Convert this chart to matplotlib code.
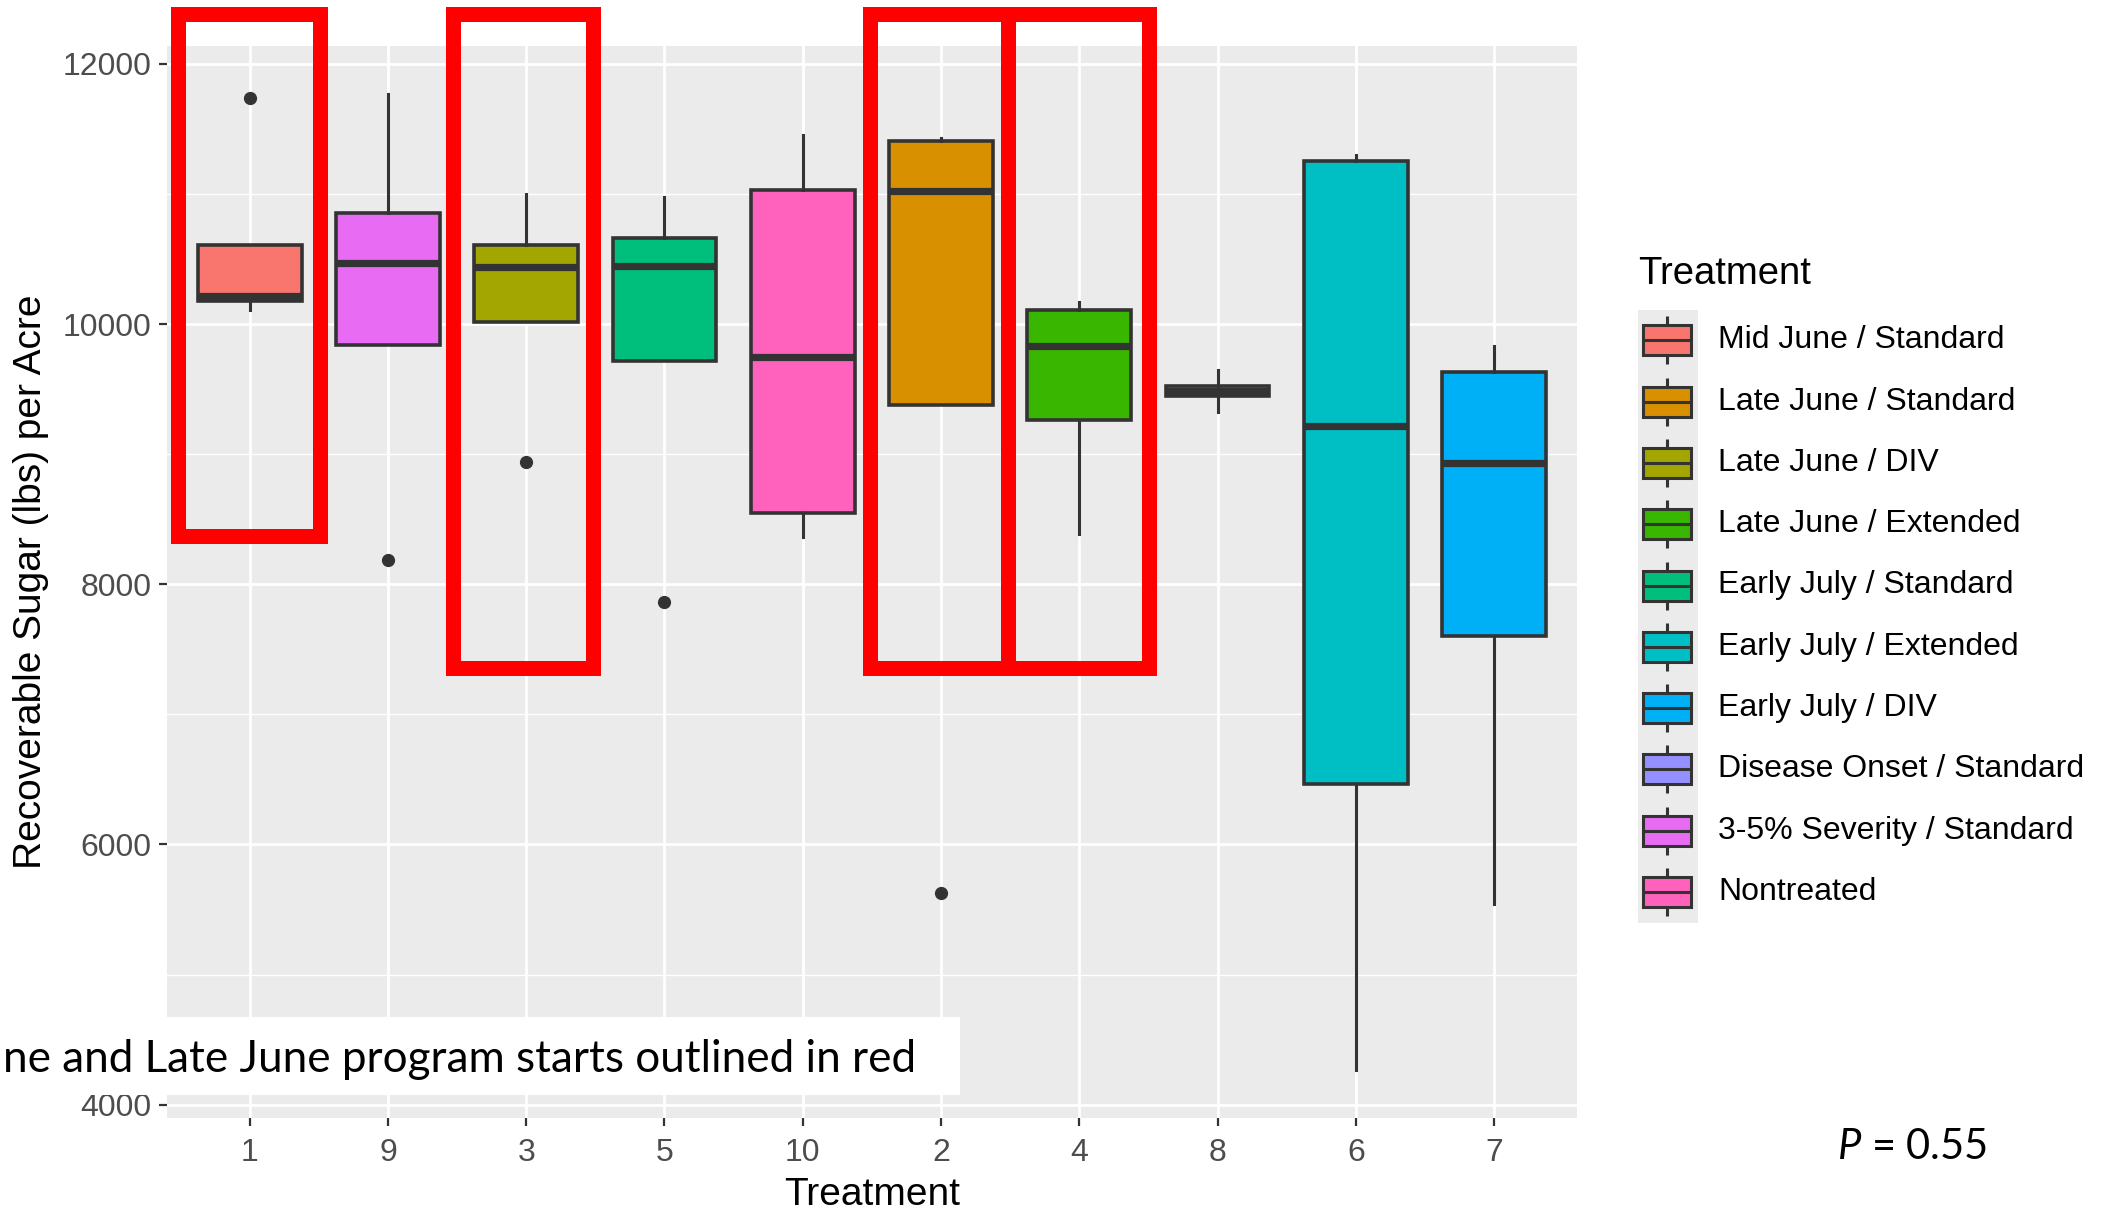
import matplotlib
matplotlib.use("Agg")
import matplotlib.pyplot as plt
from matplotlib.patches import Rectangle

# ---- data -----------------------------------------------------------------
treatment_order = ["1", "9", "3", "5", "10", "2", "4", "8", "6", "7"]
whisker_low  = [10110, 9840, 10015, 9720, 8365, 9380, 8390, 9321, 4270, 5545]
q1           = [10180, 9840, 10015, 9720, 8550, 9380, 9265, 9445, 6465, 7605]
median       = [10215, 10470, 10435, 10450, 9750, 11020, 9830, 9483, 9220, 8935]
q3           = [10610, 10855, 10610, 10660, 11030, 11410, 10105, 9522, 11250, 9630]
whisker_high = [10610, 11765, 11000, 10975, 11450, 11430, 10170, 9645, 11300, 9830]
outliers     = [[11734], [8190], [8940], [7860], [], [5630], [], [], [], []]

legend_ids = ["1", "2", "3", "4", "5", "6", "7", "8", "9", "10"]
legend_labels = ["Mid June / Standard", "Late June / Standard", "Late June / DIV",
                 "Late June / Extended", "Early July / Standard", "Early July / Extended",
                 "Early July / DIV", "Disease Onset / Standard", "3-5% Severity / Standard",
                 "Nontreated"]
legend_colors = ["#F8766D", "#D89000", "#A3A500", "#39B600", "#00BF7D", "#00BFC4",
                 "#00B0F6", "#9590FF", "#E76BF3", "#FF62BC"]

y_ticks = [4000, 6000, 8000, 10000, 12000]
y_minor = [5000, 7000, 9000, 11000]

note_text = "ne and Late June program starts outlined in red"
p_text = r"$P$ = 0.55"

# ---- styling ----------------------------------------------------------------
plt.rcParams["font.family"] = ["Liberation Sans", "DejaVu Sans"]
plt.rcParams["mathtext.fontset"] = "custom"
plt.rcParams["mathtext.it"] = "Lato:italic"
plt.rcParams["mathtext.rm"] = "Lato"

W, H, DPI = 2110, 1212, 100
fig = plt.figure(figsize=(W / DPI, H / DPI), dpi=DPI, facecolor="white")

ax_left, ax_right, ax_top, ax_bottom = 166.7, 1577, 45.7, 1118.3
ax = fig.add_axes([ax_left / W, 1 - ax_bottom / H,
                   (ax_right - ax_left) / W, (ax_bottom - ax_top) / H])
ax.set_facecolor("#EBEBEB")
for s in ax.spines.values():
    s.set_visible(False)

color_of = dict(zip(legend_ids, legend_colors))
ink = "#333333"

stats = []
for i, t in enumerate(treatment_order):
    stats.append(dict(med=median[i], q1=q1[i], q3=q3[i],
                      whislo=whisker_low[i], whishi=whisker_high[i],
                      fliers=outliers[i], label=t))

positions = list(range(1, len(treatment_order) + 1))
bp = ax.bxp(stats, positions=positions, widths=0.75, patch_artist=True,
            showcaps=False,
            boxprops=dict(edgecolor=ink, linewidth=2.6),
            medianprops=dict(color=ink, linewidth=5.2, solid_capstyle="butt"),
            whiskerprops=dict(color=ink, linewidth=2.2),
            flierprops=dict(marker="o", markerfacecolor=ink, markeredgecolor=ink,
                            markersize=8.5, linestyle="none"))
for patch, t in zip(bp["boxes"], treatment_order):
    patch.set_facecolor(color_of[t])

# y range with 5% padding around all drawn values
all_vals = whisker_low + whisker_high + [v for o in outliers for v in o]
lo, hi = min(all_vals), max(all_vals)
pad = 0.05 * (hi - lo)
ax.set_ylim(lo - pad, hi + pad)
ax.set_xlim(0.4, len(treatment_order) + 0.6)

ax.set_xticks(positions)
ax.set_xticklabels(treatment_order)
ax.set_yticks(y_ticks)
ax.set_yticks(y_minor, minor=True)
ax.set_yticklabels([str(v) for v in y_ticks])

ax.set_axisbelow(True)
ax.grid(which="major", color="white", linewidth=2.0)
ax.grid(which="minor", axis="y", color="white", linewidth=1.0)
ax.tick_params(axis="both", which="major", length=6, width=1.6, color=ink,
               labelcolor="#4D4D4D", labelsize=23)
ax.tick_params(axis="x", pad=8)
ax.tick_params(axis="y", pad=5)
ax.tick_params(which="minor", length=0)

ax.set_xlabel("Treatment", fontsize=28, color="black")
ax.set_ylabel("Recoverable Sugar (lbs) per Acre", fontsize=28, color="black")
ax.xaxis.label.set_verticalalignment("center")
ax.yaxis.label.set_verticalalignment("center")
ax.xaxis.set_label_coords(0.5, -0.0715)
ax.yaxis.set_label_coords(-0.0965, 0.5)

# ---- overlay in pixel coordinates: highlights, note, legend, p-value ---------
ov = fig.add_axes([0, 0, 1, 1], zorder=10)
ov.set_xlim(0, W)
ov.set_ylim(H, 0)
ov.axis("off")

red_lw = 15 * 72 / DPI
for (x0, x1) in [(178.4, 319.5), (452.9, 592.7), (870.1, 1007.8), (1007.8, 1148.5)]:
    y0, y1 = (14.2, 536.2) if x0 < 200 else (14.2, 668.0)
    ov.add_patch(Rectangle((x0, y0), x1 - x0, y1 - y0, fill=False,
                           edgecolor="#FF0000", linewidth=red_lw, joinstyle="miter"))

ov.add_patch(Rectangle((0, 1017), 960, 78, facecolor="white", edgecolor="none"))
ov.text(3, 1072, note_text, family=["Lato", "DejaVu Sans"], fontsize=31.7,
        ha="left", va="baseline", color="black")

ov.text(1837, 1159, p_text, family=["Lato", "DejaVu Sans"], fontsize=30,
        ha="left", va="baseline", color="black")

# legend
ov.text(1638, 274, "Treatment", fontsize=27.5, ha="left", va="center", color="black")
row0, step = 340.3, 61.3
n = len(legend_labels)
ov.add_patch(Rectangle((1638, row0 - step / 2), 60, step * n,
                       facecolor="#EBEBEB", edgecolor="none"))
for i, (lab, col) in enumerate(zip(legend_labels, legend_colors)):
    cy = row0 + i * step
    ov.plot([1667, 1667], [cy - 24, cy - 15], color=ink, lw=2.2, solid_capstyle="butt")
    ov.plot([1667, 1667], [cy + 15, cy + 24], color=ink, lw=2.2, solid_capstyle="butt")
    ov.add_patch(Rectangle((1643, cy - 15), 48, 30, facecolor=col, edgecolor=ink, linewidth=2.2))
    ov.plot([1643, 1691], [cy, cy], color=ink, lw=2.2, solid_capstyle="butt")
    ov.text(1718, cy, lab, fontsize=23, ha="left", va="center", color="black")

fig.savefig("out.png", dpi=DPI, facecolor="white")
